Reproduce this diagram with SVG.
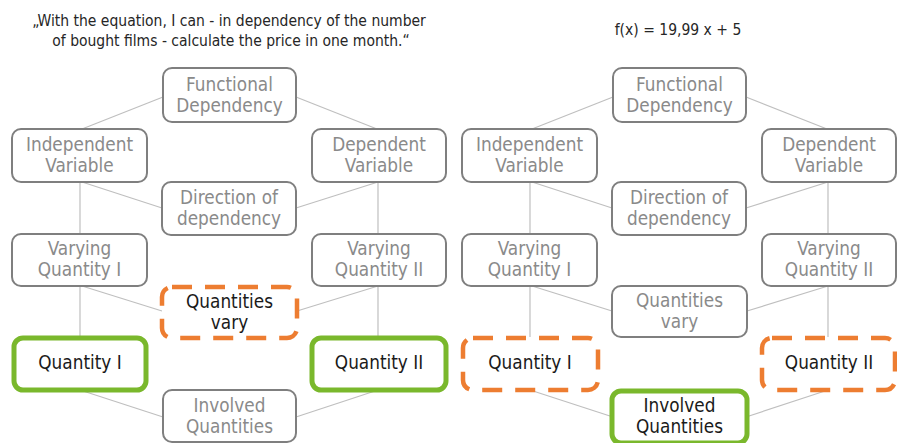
<svg xmlns="http://www.w3.org/2000/svg" width="897" height="443" viewBox="0 0 897 443">
<style>
text{font-family:"DejaVu Sans Condensed","DejaVu Sans",sans-serif;text-anchor:middle}
.t{font-size:18.8px}
.g{fill:#8a8a8a}
.k{fill:#1a1a1a}
.box{fill:#fff;stroke:#7f7f7f;stroke-width:2}
.grn{fill:#fff;stroke:#7ab82c;stroke-width:5}
.org{fill:#fff;stroke:#ed7d31;stroke-width:4.5;stroke-dasharray:20 13}
.c{stroke:#bfbfbf;stroke-width:1.2;fill:none}
.hdr{font-size:15.5px;fill:#262626}
</style>
<text class="hdr" x="229" y="26">„With the equation, I can - in dependency of the number</text>
<text class="hdr" x="231" y="46">of bought films - calculate the price in one month.“</text>
<text class="hdr" x="678" y="35">f(x) = 19,99 x + 5</text>
<g id="connectors" class="c">
<line x1="163" y1="97" x2="82" y2="129"/>
<line x1="296" y1="97" x2="377" y2="129"/>
<line x1="80" y1="182" x2="80" y2="234"/>
<line x1="82" y1="182" x2="162" y2="208"/>
<line x1="378" y1="182" x2="296" y2="208"/>
<line x1="378" y1="182" x2="378" y2="234"/>
<line x1="82" y1="286" x2="162" y2="311"/>
<line x1="80" y1="286" x2="80" y2="337"/>
<line x1="378" y1="286" x2="297" y2="311"/>
<line x1="378" y1="286" x2="378" y2="337"/>
<line x1="80" y1="390" x2="163" y2="417"/>
<line x1="378" y1="390" x2="296" y2="417"/>
<line x1="613" y1="97" x2="532" y2="129"/>
<line x1="746" y1="97" x2="827" y2="129"/>
<line x1="530" y1="182" x2="530" y2="234"/>
<line x1="532" y1="182" x2="612" y2="208"/>
<line x1="828" y1="182" x2="746" y2="208"/>
<line x1="828" y1="182" x2="828" y2="234"/>
<line x1="532" y1="286" x2="612" y2="311"/>
<line x1="530" y1="286" x2="530" y2="337"/>
<line x1="828" y1="286" x2="747" y2="311"/>
<line x1="828" y1="286" x2="828" y2="337"/>
<line x1="530" y1="390" x2="613" y2="417"/>
<line x1="828" y1="390" x2="746" y2="417"/>
</g>
<g id="L-functional"><rect class="box" x="163" y="68" width="133" height="54" rx="9"/><text class="t g" x="229.5" y="91">Functional</text><text class="t g" x="229.5" y="112">Dependency</text></g>
<g id="L-independent"><rect class="box" x="12" y="129" width="135" height="53" rx="9"/><text class="t g" x="79.5" y="151">Independent</text><text class="t g" x="79.5" y="172">Variable</text></g>
<g id="L-dependent"><rect class="box" x="312" y="129" width="134" height="53" rx="9"/><text class="t g" x="379" y="151">Dependent</text><text class="t g" x="379" y="172">Variable</text></g>
<g id="L-direction"><rect class="box" x="162" y="182" width="134" height="53" rx="9"/><text class="t g" x="229" y="204">Direction of</text><text class="t g" x="229" y="225">dependency</text></g>
<g id="L-varying1"><rect class="box" x="12" y="234" width="135" height="52" rx="9"/><text class="t g" x="79.5" y="255">Varying</text><text class="t g" x="79.5" y="276">Quantity I</text></g>
<g id="L-varying2"><rect class="box" x="312" y="234" width="134" height="52" rx="9"/><text class="t g" x="379" y="255">Varying</text><text class="t g" x="379" y="276">Quantity II</text></g>
<g id="L-vary"><rect class="org" x="162" y="287" width="135" height="51" rx="10"/><text class="t k" x="229.5" y="308">Quantities</text><text class="t k" x="229.5" y="329">vary</text></g>
<g id="L-quantity1"><rect class="grn" x="14" y="338" width="132" height="52" rx="9"/><text class="t k" x="80" y="369">Quantity I</text></g>
<g id="L-quantity2"><rect class="grn" x="312" y="338" width="134" height="52" rx="9"/><text class="t k" x="379" y="369">Quantity II</text></g>
<g id="L-involved"><rect class="box" x="163" y="390" width="133" height="52" rx="9"/><text class="t g" x="229.5" y="412">Involved</text><text class="t g" x="229.5" y="433">Quantities</text></g>

<g id="R-functional"><rect class="box" x="613" y="68" width="133" height="54" rx="9"/><text class="t g" x="679.5" y="91">Functional</text><text class="t g" x="679.5" y="112">Dependency</text></g>
<g id="R-independent"><rect class="box" x="462" y="129" width="135" height="53" rx="9"/><text class="t g" x="529.5" y="151">Independent</text><text class="t g" x="529.5" y="172">Variable</text></g>
<g id="R-dependent"><rect class="box" x="762" y="129" width="134" height="53" rx="9"/><text class="t g" x="829" y="151">Dependent</text><text class="t g" x="829" y="172">Variable</text></g>
<g id="R-direction"><rect class="box" x="612" y="182" width="134" height="53" rx="9"/><text class="t g" x="679" y="204">Direction of</text><text class="t g" x="679" y="225">dependency</text></g>
<g id="R-varying1"><rect class="box" x="462" y="234" width="135" height="52" rx="9"/><text class="t g" x="529.5" y="255">Varying</text><text class="t g" x="529.5" y="276">Quantity I</text></g>
<g id="R-varying2"><rect class="box" x="762" y="234" width="134" height="52" rx="9"/><text class="t g" x="829" y="255">Varying</text><text class="t g" x="829" y="276">Quantity II</text></g>
<g id="R-vary"><rect class="box" x="612" y="286" width="135" height="51" rx="9"/><text class="t g" x="679.5" y="307">Quantities</text><text class="t g" x="679.5" y="328">vary</text></g>
<g id="R-quantity1"><rect class="org" x="463" y="338" width="135" height="52" rx="10"/><text class="t k" x="530" y="369">Quantity I</text></g>
<g id="R-quantity2"><rect class="org" x="762" y="338" width="133" height="52" rx="10"/><text class="t k" x="829" y="369">Quantity II</text></g>
<g id="R-involved"><rect class="grn" x="612" y="391" width="135" height="52" rx="9"/><text class="t k" x="679.5" y="412">Involved</text><text class="t k" x="679.5" y="433">Quantities</text></g>
</svg>
